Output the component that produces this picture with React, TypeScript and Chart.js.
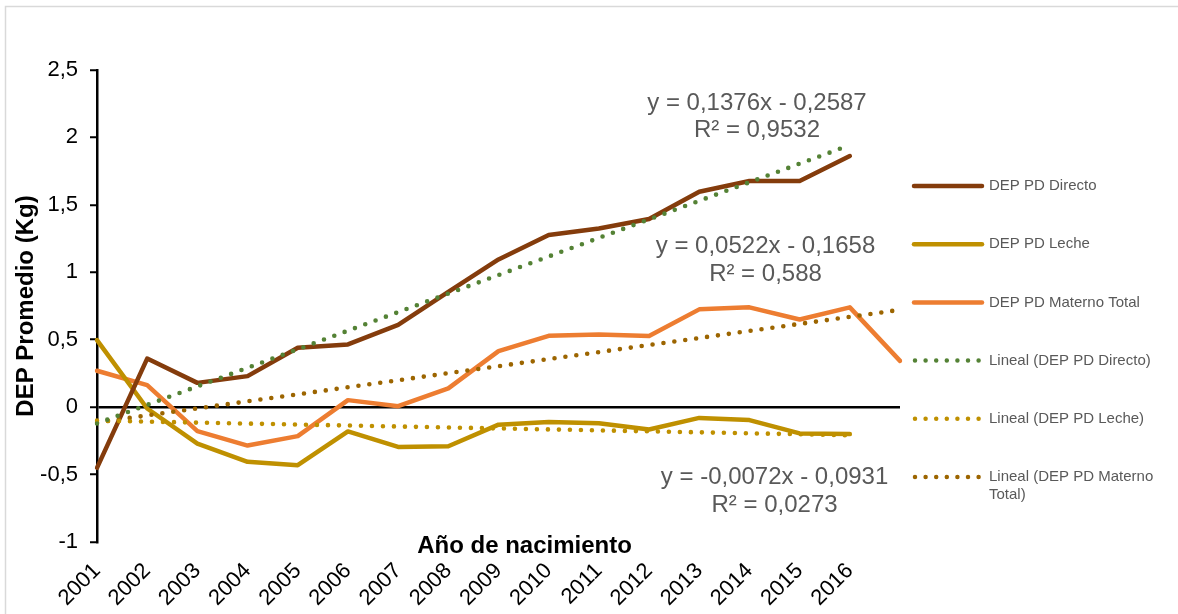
import React, { useEffect, useRef } from 'react';
import { Chart, registerables } from 'chart.js';

Chart.register(...registerables);

const FONT = '"Liberation Sans", Arial, sans-serif';

const years = ['2001', '2002', '2003', '2004', '2005', '2006', '2007', '2008', '2009', '2010', '2011', '2012', '2013', '2014', '2015', '2016', ''];

const directo = [-0.45, 0.36, 0.18, 0.23, 0.44, 0.465, 0.61, 0.855, 1.095, 1.276, 1.325, 1.395, 1.597, 1.677, 1.677, 1.862];
const leche = [0.497, -0.01, -0.27, -0.405, -0.43, -0.18, -0.295, -0.29, -0.13, -0.11, -0.12, -0.166, -0.08, -0.096, -0.195, -0.2];
const materno = [0.27, 0.163, -0.178, -0.285, -0.215, 0.052, 0.007, 0.139, 0.415, 0.529, 0.539, 0.527, 0.725, 0.74, 0.65, 0.74, 0.343];

// Trendline coefficients as printed on the chart (y = a*x + b, x = 1..n)
const trendDirectoCoef = [0.1376, -0.2587];
const trendLecheCoef = [-0.0072, -0.0931];
const trendMaternoCoef = [0.0522, -0.1658];

const yTicks = [-1, -0.5, 0, 0.5, 1, 1.5, 2, 2.5];

const eqLabels = [
  { lines: ['y = 0,1376x - 0,2587', 'R² = 0,9532'], x: 13.15, y: 2.253 },
  { lines: ['y = 0,0522x - 0,1658', 'R² = 0,588'], x: 13.32, y: 1.189 },
  { lines: ['y = -0,0072x - 0,0931', 'R² = 0,0273'], x: 13.5, y: -0.522 },
];

const legendTexts = [
  ['DEP PD Directo'],
  ['DEP PD Leche'],
  ['DEP PD Materno Total'],
  ['Lineal (DEP PD Directo)'],
  ['Lineal (DEP PD Leche)'],
  ['Lineal (DEP PD Materno', 'Total)'],
];

function trend(coef: number[], n: number) {
  return years.map((_, i) => (i < n ? coef[0] * (i + 1) + coef[1] : null));
}

const fmt = (v: number) => String(v).replace('.', ',');

export default function App() {
  const ref = useRef<HTMLCanvasElement | null>(null);

  useEffect(() => {
    document.body.style.margin = '0';
    const canvas = ref.current;
    if (!canvas) return;

    const dotted = (color: string, data: (number | null)[]) => ({
      data,
      borderColor: color,
      backgroundColor: color,
      borderWidth: 4.6,
      borderDash: [0, 11],
      borderCapStyle: 'round' as const,
      pointRadius: 0,
      tension: 0,
      order: 0,
      spanGaps: false,
    });
    const solid = (color: string, data: (number | null)[]) => ({
      data,
      borderColor: color,
      backgroundColor: color,
      borderWidth: 4.5,
      borderCapStyle: 'round' as const,
      borderJoinStyle: 'round' as const,
      pointRadius: 0,
      tension: 0,
      order: 1,
    });

    const frame = {
      id: 'frame',
      beforeDraw(chart: any) {
        const c = chart.ctx;
        c.save();
        c.fillStyle = '#fff';
        c.fillRect(0, 0, chart.width, chart.height);
        c.strokeStyle = '#d9d9d9';
        c.lineWidth = 1.5;
        c.strokeRect(5.5, 6.5, chart.width + 20, chart.height + 20);
        c.restore();
      },
    };

    const extras = {
      id: 'extras',
      afterDraw(chart: any) {
        const c = chart.ctx;
        const xs = chart.scales.x;
        const ys = chart.scales.y;
        const area = chart.chartArea;
        c.save();
        // equation labels
        c.font = `24px ${FONT}`;
        c.fillStyle = '#595959';
        c.textAlign = 'center';
        c.textBaseline = 'middle';
        eqLabels.forEach((l) => {
          const px = xs.getPixelForValue(l.x);
          const py = ys.getPixelForValue(l.y);
          l.lines.forEach((t, i) => c.fillText(t, px, py + i * 27.5));
        });
        // x axis title
        c.font = `bold 24px ${FONT}`;
        c.fillStyle = '#000';
        c.fillText('Año de nacimiento', (area.left + area.right) / 2 + 26, area.bottom + 4);
        // legend
        const lx0 = area.right + 14;
        const lx1 = area.right + 82;
        const ly0 = 186;
        const step = 58.2;
        c.font = `15px ${FONT}`;
        c.textAlign = 'left';
        chart.data.datasets.forEach((ds: any, i: number) => {
          const y = ly0 + i * step;
          c.save();
          c.strokeStyle = ds.borderColor;
          c.lineWidth = 4.5;
          c.lineCap = 'round';
          if (ds.borderDash && ds.borderDash.length) {
            c.setLineDash([0, 10.6]);
            c.beginPath();
            c.moveTo(lx0 + 1, y);
            c.lineTo(lx1, y);
            c.stroke();
          } else {
            c.beginPath();
            c.moveTo(lx0, y);
            c.lineTo(lx1, y);
            c.stroke();
          }
          c.restore();
          c.fillStyle = '#595959';
          legendTexts[i].forEach((t, j) => c.fillText(t, lx1 + 7, y + j * 17.5));
        });
        c.restore();
      },
    };

    const chart = new Chart(canvas, {
      type: 'line',
      data: {
        labels: years,
        datasets: [
          solid('#843C0C', directo),
          solid('#BF9000', leche),
          solid('#ED7D31', materno),
          dotted('#548235', trend(trendDirectoCoef, 16)),
          dotted('#BF9000', trend(trendLecheCoef, 16)),
          dotted('#9C6500', trend(trendMaternoCoef, 17)),
        ],
      },
      options: {
        responsive: false,
        animation: false,
        layout: { padding: { top: 70, right: 278, bottom: 0, left: 0 } },
        plugins: { legend: { display: false }, tooltip: { enabled: false } },
        scales: {
          x: {
            offset: false,
            grid: { display: false },
            border: { display: false },
            ticks: {
              autoSkip: false,
              maxRotation: 45,
              minRotation: 45,
              padding: 8,
              color: '#000',
              font: { family: FONT, size: 22 },
            },
            afterFit: (s: any) => {
              s.height = 72;
            },
          },
          y: {
            min: -1,
            max: 2.5,
            afterBuildTicks: (s: any) => {
              s.ticks = yTicks.map((v) => ({ value: v }));
            },
            grid: {
              color: (ctx: any) => (ctx.tick && ctx.tick.value === 0 ? '#000' : 'rgba(0,0,0,0)'),
              lineWidth: 2.5,
              tickColor: '#000',
              tickLength: 7,
              tickWidth: 2,
            },
            border: { display: true, color: '#000', width: 2.5 },
            ticks: {
              padding: 12,
              color: '#000',
              font: { family: FONT, size: 22 },
              callback: (v: any) => fmt(Number(v)),
            },
            title: {
              display: true,
              text: 'DEP Promedio (Kg)',
              color: '#000',
              font: { family: FONT, size: 24, weight: 'bold' },
              padding: { top: 12, bottom: 0 },
            },
            afterFit: (s: any) => {
              s.width = 97;
            },
          },
        },
      },
      plugins: [frame, extras],
    });

    return () => chart.destroy();
  }, []);

  return <canvas ref={ref} width={1178} height={614} style={{ display: 'block' }} />;
}
